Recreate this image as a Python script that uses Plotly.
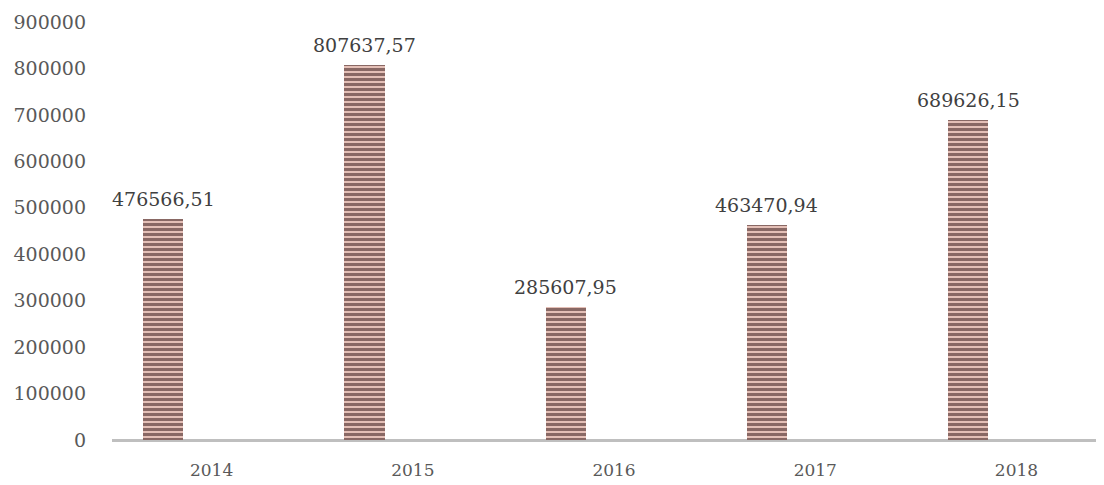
import plotly.graph_objects as go

years = ["2014", "2015", "2016", "2017", "2018"]
values = [476566.51, 807637.57, 285607.95, 463470.94, 689626.15]
y_ticks = [0, 100000, 200000, 300000, 400000, 500000, 600000, 700000, 800000, 900000]

labels = [f"{v:.2f}".replace(".", ",") for v in values]

BAR_W = 0.2
BAR_OFF = -0.34

fig = go.Figure()
fig.add_trace(go.Bar(
    x=years, y=values,
    width=BAR_W, offset=BAR_OFF,
    marker=dict(
        color="#e6c4bc",
        line=dict(width=0),
        pattern=dict(shape="-", fgcolor="#2e1212", bgcolor="#e4bfb6", size=5, solidity=0.6),
    ),
    showlegend=False,
    hoverinfo="x+y",
))

for i, (v, lab) in enumerate(zip(values, labels)):
    fig.add_annotation(
        x=i + BAR_OFF + BAR_W / 2, y=v, xref="x", yref="y",
        text=lab, showarrow=False,
        xanchor="center", yanchor="bottom", yshift=7,
        font=dict(family="DejaVu Serif", size=19, color="#404040"),
    )

fig.update_layout(
    width=1096, height=477,
    margin=dict(l=104, r=0, t=14, b=45, autoexpand=False),
    paper_bgcolor="white", plot_bgcolor="white",
    font=dict(family="DejaVu Serif", color="#595959"),
    bargap=0,
    xaxis=dict(
        type="category", range=[-0.495, 4.435], automargin=False,
        showgrid=False, showline=False, zeroline=False,
        ticks="", ticklabelstandoff=18,
        tickfont=dict(size=17, color="#595959"),
    ),
    yaxis=dict(
        range=[0, 900000], tickvals=y_ticks, ticktext=[str(t) for t in y_ticks],
        automargin=False,
        showgrid=False, showline=False, zeroline=True, zerolinecolor="#bfbfbf", zerolinewidth=3,
        ticks="", ticklabelstandoff=25,
        tickfont=dict(size=19, color="#595959"),
    ),
)

fig.write_html("out.html")
